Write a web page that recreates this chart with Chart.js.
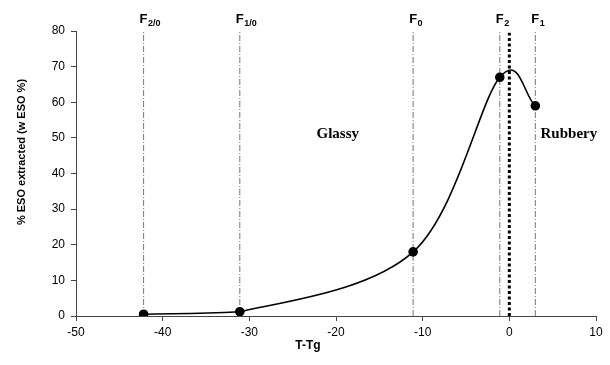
<!DOCTYPE html>
<html>
<head>
<meta charset="utf-8" />
<title>ESO extracted vs T-Tg</title>
<script src="https://cdn.jsdelivr.net/npm/chart.js"></script>
<style>
  html, body { margin: 0; padding: 0; background: #fff; }
  #wrap { width: 610px; height: 365px; }
</style>
</head>
<body>
<div id="wrap"><canvas id="eso"></canvas></div>
<script>
// data
const tempDiff = [-42.2, -31.1, -11.1, -1.1, 3.0];
const esoPct = [0.5, 1.2, 18, 67, 59];
const markerX = [-42.2, -31.1, -11.1, -1.1, 3.0];
const markerMain = ['F', 'F', 'F', 'F', 'F'];
const markerSub = ['2/0', '1/0', '0', '2', '1'];
const tgLine = 0;
const xTicks = [-50, -40, -30, -20, -10, 0, 10];
const yTicks = [0, 10, 20, 30, 40, 50, 60, 70, 80];

const ctx = document.getElementById('eso').getContext('2d');

const datasets = [{
  data: tempDiff.map((x, i) => ({ x: x, y: esoPct[i] })),
  showLine: true,
  borderColor: '#000',
  backgroundColor: '#000',
  borderWidth: 1.6,
  tension: 0.35,
  pointRadius: 4,
  pointHoverRadius: 4,
  order: 0
}];

markerX.forEach(function (x) {
  datasets.push({
    data: [{ x: x, y: 0 }, { x: x, y: 80.5 }],
    showLine: true,
    borderColor: '#777',
    borderWidth: 1,
    borderDash: [6, 2, 1, 2],
    pointRadius: 0,
    order: 2
  });
});

datasets.push({
  data: [{ x: tgLine, y: 0 }, { x: tgLine, y: 79.5 }],
  showLine: true,
  borderColor: '#000',
  borderWidth: 3,
  borderDash: [3, 2.5],
  pointRadius: 0,
  order: 1
});

// spreadsheet-style smoothing: symmetric control arms of 1/6 of the
// neighbour chord, applied to the points chart.js has already placed.
// a segment is not allowed to sag below its lower end point.
const smoothCurve = {
  id: 'smoothCurve',
  beforeDatasetDraw(chart, args) {
    if (args.index !== 0) return;
    try {
      const line = args.meta.dataset;
      line.updateControlPoints(chart.chartArea, 'x');
      const p = args.meta.data;
      const n = p.length;
      for (let i = 0; i < n; i++) {
        let ax, ay;
        if (i === 0) {
          ax = (p[1].x - p[0].x) / 3; ay = (p[1].y - p[0].y) / 3;
        } else if (i === n - 1) {
          ax = (p[i].x - p[i - 1].x) / 3; ay = (p[i].y - p[i - 1].y) / 3;
        } else {
          ax = (p[i + 1].x - p[i - 1].x) / 6; ay = (p[i + 1].y - p[i - 1].y) / 6;
        }
        p[i].cp1x = p[i].x - ax; p[i].cp1y = p[i].y - ay;
        p[i].cp2x = p[i].x + ax; p[i].cp2y = p[i].y + ay;
      }
      for (let i = 0; i < n - 1; i++) {
        const low = Math.max(p[i].y, p[i + 1].y);
        p[i].cp2y = Math.min(p[i].cp2y, low);
        p[i + 1].cp1y = Math.min(p[i + 1].cp1y, low);
      }
      line._path = undefined;
    } catch (e) { /* keep default spline */ }
  }
};

const textPlugin = {
  id: 'textPlugin',
  afterDraw(chart) {
    const c = chart.ctx;
    const xs = chart.scales.x, ys = chart.scales.y;
    c.save();
    c.fillStyle = '#000';
    c.textBaseline = 'alphabetic';
    // F labels above the vertical lines
    markerX.forEach(function (x, i) {
      const px = xs.getPixelForValue(x) - 4;
      c.font = 'bold 13px "Liberation Sans", Arial, sans-serif';
      c.textAlign = 'left';
      c.fillText(markerMain[i], px, 23);
      const w = c.measureText(markerMain[i]).width;
      c.font = 'bold 9px "Liberation Sans", Arial, sans-serif';
      c.fillText(markerSub[i], px + w + 0.5, 26);
    });
    // region labels
    c.font = 'bold 15px "Liberation Serif", "Times New Roman", serif';
    c.textAlign = 'center';
    c.textBaseline = 'middle';
    c.fillText('Glassy', xs.getPixelForValue(-19.8), ys.getPixelForValue(51));
    c.textAlign = 'left';
    c.fillText('Rubbery', xs.getPixelForValue(3.6), ys.getPixelForValue(51));
    // axis titles
    c.textAlign = 'center';
    c.font = 'bold 12px "Liberation Sans", Arial, sans-serif';
    c.fillText('T-Tg', 308, 346);
    c.font = 'bold 11px "Liberation Sans", Arial, sans-serif';
    c.translate(22, 152);
    c.rotate(-Math.PI / 2);
    c.fillText('% ESO extracted (w ESO %)', 0, 0);
    c.restore();
  }
};

new Chart(ctx, {
  type: 'scatter',
  data: { datasets: datasets },
  options: {
    responsive: true,
    maintainAspectRatio: false,
    animation: false,
    layout: { padding: { top: 31, right: 14, left: 0, bottom: 0 } },
    plugins: {
      legend: { display: false },
      tooltip: { enabled: false }
    },
    scales: {
      x: {
        type: 'linear',
        min: -50,
        max: 10,
        afterBuildTicks(scale) { scale.ticks = xTicks.map(v => ({ value: v })); },
        afterFit(scale) { scale.height = 49; },
        ticks: {
          color: '#000',
          font: { size: 12, family: '"Liberation Sans", Arial, sans-serif' },
          padding: 4,
          maxRotation: 0
        },
        grid: { display: true, drawOnChartArea: false, drawTicks: true, tickLength: 5, color: '#444' },
        border: { display: true, color: '#444', width: 1 }
      },
      y: {
        type: 'linear',
        min: 0,
        max: 80,
        afterBuildTicks(scale) { scale.ticks = yTicks.map(v => ({ value: v })); },
        afterFit(scale) { scale.width = 76; },
        ticks: {
          color: '#000',
          font: { size: 12, family: '"Liberation Sans", Arial, sans-serif' },
          padding: 6
        },
        grid: { display: true, drawOnChartArea: false, drawTicks: true, tickLength: 5, color: '#444' },
        border: { display: true, color: '#444', width: 1 }
      }
    }
  },
  plugins: [smoothCurve, textPlugin]
});
</script>
</body>
</html>
